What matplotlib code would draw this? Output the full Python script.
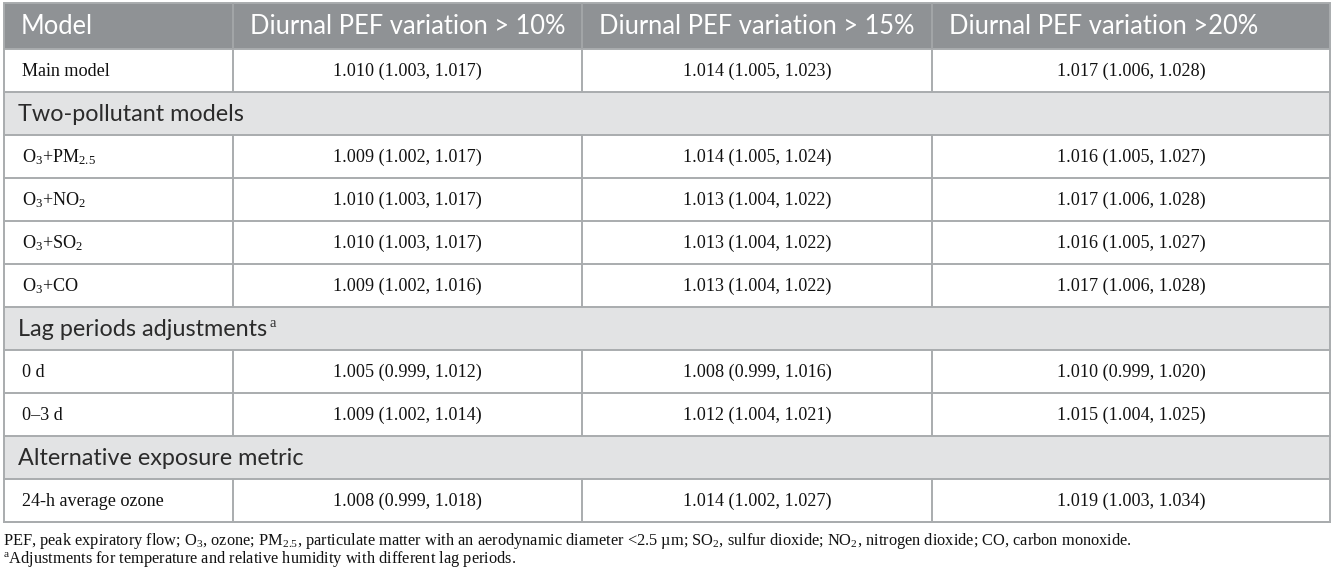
import matplotlib
matplotlib.use("Agg")
import matplotlib.pyplot as plt
from matplotlib.patches import Rectangle

plt.rcParams['mathtext.fontset'] = 'custom'
plt.rcParams['mathtext.rm'] = 'Liberation Serif'
plt.rcParams['mathtext.it'] = 'Liberation Serif:italic'

# table content
columns = ["Model", "Diurnal PEF variation > 10%", "Diurnal PEF variation > 15%", "Diurnal PEF variation >20%"]

# (label, values) ; values None -> section row
rows = [
    ("Main model", ["1.010 (1.003, 1.017)", "1.014 (1.005, 1.023)", "1.017 (1.006, 1.028)"]),
    ("Two-pollutant models", None),
    (r"O$_3$+PM$_{2.5}$", ["1.009 (1.002, 1.017)", "1.014 (1.005, 1.024)", "1.016 (1.005, 1.027)"]),
    (r"O$_3$+NO$_2$", ["1.010 (1.003, 1.017)", "1.013 (1.004, 1.022)", "1.017 (1.006, 1.028)"]),
    (r"O$_3$+SO$_2$", ["1.010 (1.003, 1.017)", "1.013 (1.004, 1.022)", "1.016 (1.005, 1.027)"]),
    (r"O$_3$+CO", ["1.009 (1.002, 1.016)", "1.013 (1.004, 1.022)", "1.017 (1.006, 1.028)"]),
    ("Lag periods adjustments", None),
    ("0 d", ["1.005 (0.999, 1.012)", "1.008 (0.999, 1.016)", "1.010 (0.999, 1.020)"]),
    ("0\u20133 d", ["1.009 (1.002, 1.014)", "1.012 (1.004, 1.021)", "1.015 (1.004, 1.025)"]),
    ("Alternative exposure metric", None),
    ("24-h average ozone", ["1.008 (0.999, 1.018)", "1.014 (1.002, 1.027)", "1.019 (1.003, 1.034)"]),
]

footnotes = [
    r"PEF, peak expiratory flow; O$_3$, ozone; PM$_{2.5}$, particulate matter with an aerodynamic diameter <2.5 µm; "
    r"SO$_2$, sulfur dioxide; NO$_2$, nitrogen dioxide; CO, carbon monoxide.",
    r"$^{\mathrm{a}}$Adjustments for temperature and relative humidity with different lag periods.",
]

# layout (pixels)
W, H = 1333, 578
col_edges = [4, 233, 582, 932, 1330]
top = 3
header_h = 46
row_h = 43
header_bg = '#8f9295'
section_bg = '#e2e3e4'
line_c = '#a9acae'
lw = 1.4

fig = plt.figure(figsize=(W / 100, H / 100), dpi=100)
ax = fig.add_axes([0, 0, 1, 1])
ax.set_xlim(0, W)
ax.set_ylim(H, 0)
ax.axis('off')

left, right = col_edges[0], col_edges[-1]

# header
ax.add_patch(Rectangle((left, top), right - left, header_h, facecolor=header_bg, edgecolor='none'))
for i, name in enumerate(columns):
    ax.text(col_edges[i] + 17, top + header_h / 2 + 1, name, color='white',
            fontsize=18.4, family='Lato', va='center', ha='left')

y = top + header_h
for label, vals in rows:
    yc = y + row_h / 2
    if vals is None:
        ax.add_patch(Rectangle((left, y), right - left, row_h, facecolor=section_bg, edgecolor='none'))
        t = ax.text(left + 14, yc + 1, label, color='#2b2b2b', fontsize=16.8, family='Lato',
                    va='center', ha='left')
        if label.startswith("Lag"):
            fig.canvas.draw()
            bb = t.get_window_extent().transformed(ax.transData.inverted())
            ax.text(bb.x1 + 2, yc - 6, r"$\mathrm{a}$", color='#2b2b2b', fontsize=10.5,
                    va='center', ha='left')
    else:
        ax.text(left + 18, yc + 1, label, color='#111111', fontsize=13.1, family='Liberation Serif',
                va='center', ha='left')
        for j, v in enumerate(vals):
            xc = (col_edges[j + 1] + col_edges[j + 2]) / 2
            ax.text(xc, yc + 1, v, color='#111111', fontsize=13.1, family='Liberation Serif',
                    va='center', ha='center')
        for xe in col_edges[1:-1]:
            ax.plot([xe, xe], [y, y + row_h], color=line_c, lw=lw, solid_capstyle='butt')
    ax.plot([left, right], [y, y], color=line_c, lw=lw)
    y += row_h
bottom = y
ax.plot([left, right], [bottom, bottom], color=line_c, lw=lw)

# header column separators (slightly lighter than bg)
for xe in col_edges[1:-1]:
    ax.plot([xe, xe], [top, top + header_h], color='#a3a6a8', lw=lw, solid_capstyle='butt')

# outer border
ax.add_patch(Rectangle((left, top), right - left, bottom - top, facecolor='none', edgecolor=line_c, lw=lw))

# footnotes
ax.text(3, bottom + 19, footnotes[0], fontsize=11.75, family='Liberation Serif', color='#111111',
        va='center', ha='left')
ax.text(3, bottom + 37, footnotes[1], fontsize=11.75, family='Liberation Serif', color='#111111',
        va='center', ha='left')

fig.savefig('out.png', dpi=100)
